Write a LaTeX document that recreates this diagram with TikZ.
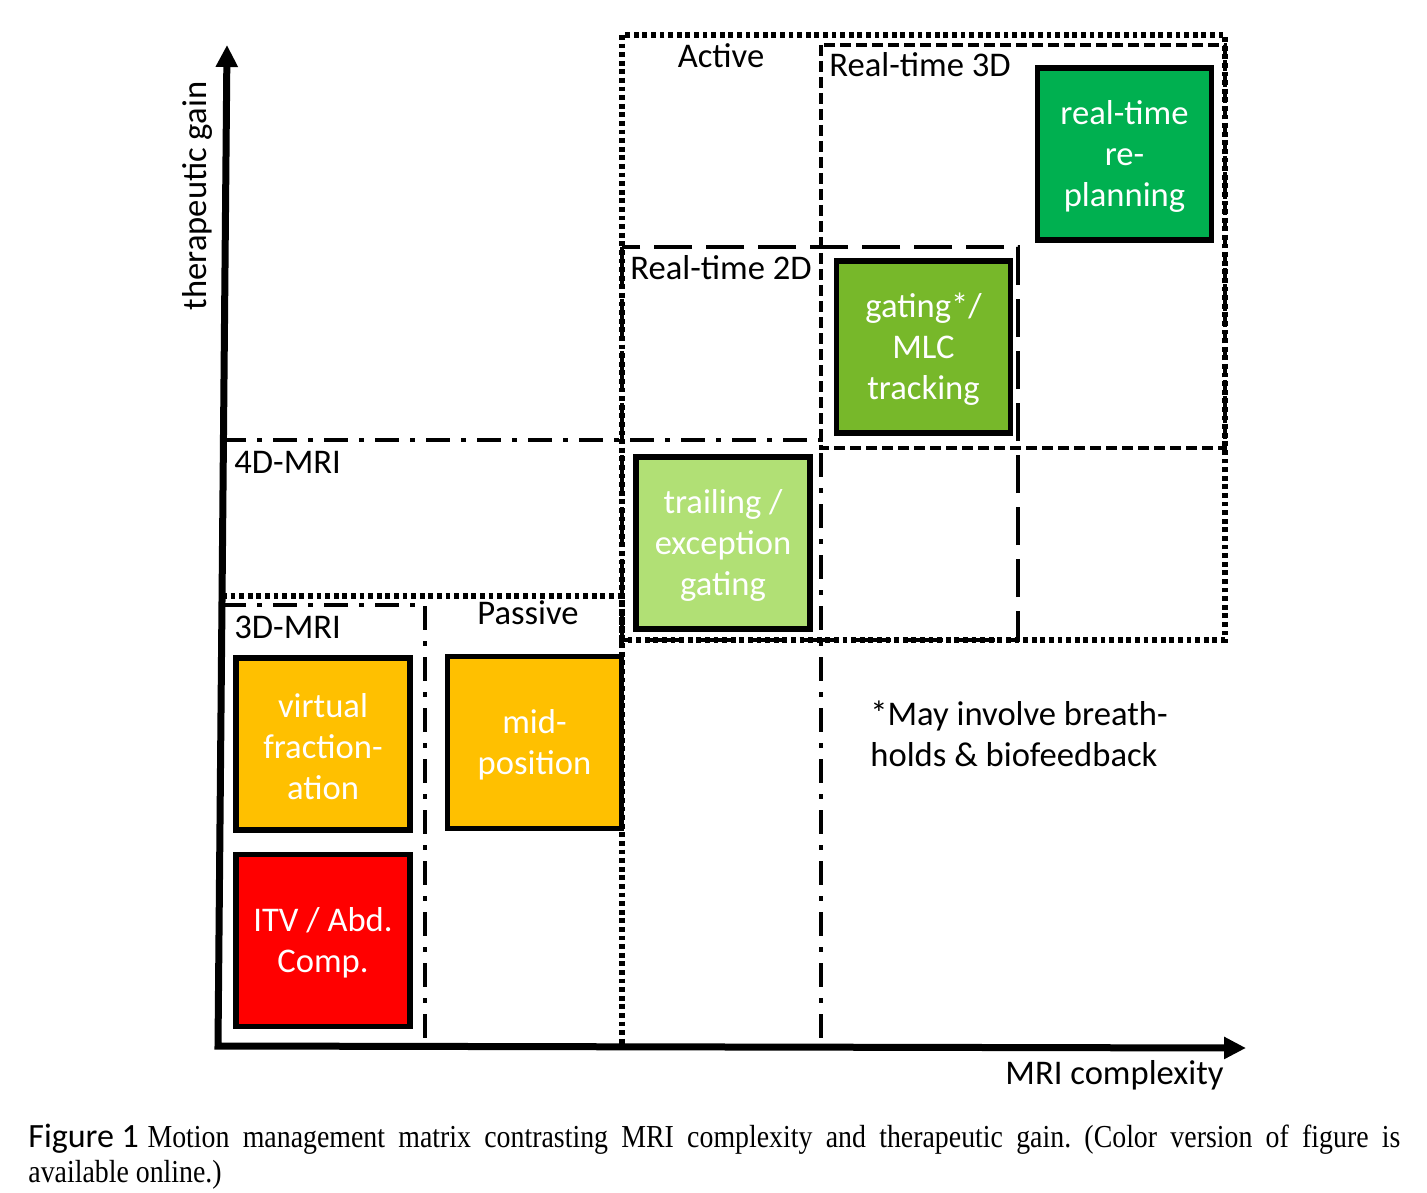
\documentclass[tikz,border=0pt]{standalone}
\usepackage{fontspec}
\setmainfont{Carlito}
\newfontfamily\capserif[FakeStretch=0.87]{Liberation Serif}
\usetikzlibrary{arrows.meta}
\definecolor{cGreen}{RGB}{0,176,80}
\definecolor{cMid}{RGB}{119,184,42}
\definecolor{cLight}{RGB}{177,224,117}
\definecolor{cOrange}{RGB}{255,192,0}
\definecolor{cRed}{RGB}{255,0,0}
\frenchspacing
\begin{document}
\begin{tikzpicture}[x=0.5pt,y=-0.5pt,
  box/.style={draw=black, line width=2.8pt, minimum width=87pt, minimum height=86pt, inner sep=0pt, text=white, align=center, font=\fontsize{17.3}{20.5}\selectfont},
  lab/.style={inner sep=0pt, font=\fontsize{17.3}{20.5}\selectfont},
  dotreg/.style={line width=2.6pt, dash pattern=on 2.4pt off 1.9pt},
  dashreg/.style={line width=2.4pt, dash pattern=on 5.5pt off 2.5pt},
  longdash/.style={line width=2.4pt, dash pattern=on 19pt off 7pt},
  dashdot/.style={line width=2.4pt, dash pattern=on 12pt off 5.5pt on 2.5pt off 5.5pt},
  axis/.style={line width=3.5pt, line join=miter, {Triangle[length=11pt,width=10.5pt]}-{Triangle[length=11pt,width=10.5pt]}},
]
\useasboundingbox (0,0) rectangle (1427,1192);
\fill[white] (0,0) rectangle (1427,1192);

% boxes
\node[box, fill=cGreen] (replan) at (1124.5,154) {\rule{0pt}{0.83em}real-time\\re-\\planning};
\node[box, fill=cMid] (gating) at (923.5,347) {\rule{0pt}{0.83em}gating*/\\MLC\\tracking};
\node[box, fill=cLight] (trail) at (723,543) {\rule{0pt}{0.83em}trailing /\\exception\\gating};
\node[box, fill=cOrange] (virt) at (323,744) {\rule{0pt}{0.83em}virtual\\fraction-\\ation};
\node[box, fill=cOrange] (mid) at (534.5,742.5) {\rule{0pt}{0.83em}mid-\\position};
\node[box, fill=cRed] (itv) at (323,940.5) {\rule{0pt}{0.83em}ITV / Abd.\\Comp.};

% regions
\draw[dotreg] (622,35) rectangle (1225,640);
\draw[dashreg] (821,45) rectangle (1225,448);
\draw[longdash] (622,247) rectangle (1018,640);
\draw[dashdot] (222,440) -- (821,440) -- (821,1045);
\draw[dotreg] (222,596) -- (622,596) -- (622,1045);
\draw[dashdot] (222,605) -- (425,605) -- (425,1045);

% axes
\coordinate (O) at (218,1046);
\coordinate (Ytip) at (227,45);
\coordinate (Xtip) at (1246,1048);
\draw[axis] (Ytip) -- (O) -- (Xtip);

% labels
\node[lab, anchor=base] (active) at (721,68) {Active};
\node[lab, anchor=base west] (rt3) at (829,77) {Real-time 3D};
\node[lab, anchor=base west] (rt2) at (630,280) {Real-time 2D};
\node[lab, anchor=base west] (d4) at (234,473) {4D-MRI};
\node[lab, anchor=base] (pas) at (528,624) {Passive};
\node[lab, anchor=base west] (d3) at (234,638) {3D-MRI};
\node[lab, anchor=west, align=left] (note) at (870,734) {*May involve breath-\\holds \& biofeedback};
\node[lab, anchor=base east] (xl) at (1224,1084) {MRI complexity};
\node[lab, rotate=90] (yl) at (197,196) {therapeutic gain};

% caption
\node[anchor=base west, inner sep=0pt] (cap1) at (28,1147) {\makebox[686pt][s]{\mbox{\fontsize{17}{20}\selectfont Figure 1} {\capserif\fontsize{16}{19}\selectfont Motion management matrix contrasting MRI complexity and therapeutic gain. (Color version of figure is}}};
\node[anchor=base west, inner sep=0pt] (cap2) at (28,1182) {\capserif\fontsize{16}{19}\selectfont available online.)};
\end{tikzpicture}
\end{document}
